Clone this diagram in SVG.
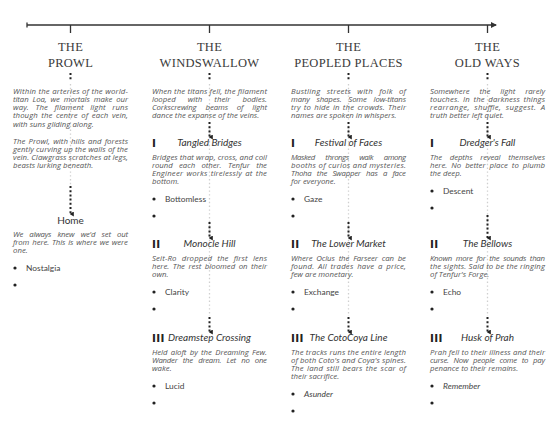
<svg xmlns="http://www.w3.org/2000/svg" width="557" height="430" viewBox="0 0 557 430">
<style>
.hdr{font-family:"Liberation Serif","DejaVu Serif",serif;font-size:12.5px;fill:#3a3a3a;text-anchor:middle;letter-spacing:0.3px}
.body{font-family:"Open Sans","Liberation Sans",sans-serif;font-style:italic;font-size:7.8px;fill:#555}
.ttl{font-family:"Lato","Liberation Sans",sans-serif;font-style:italic;font-size:10px;fill:#333;text-anchor:middle}
.ttlu{font-family:"Lato","Liberation Sans",sans-serif;font-size:10px;fill:#333;text-anchor:middle}
.num{font-family:"DejaVu Sans",sans-serif;font-weight:bold;font-size:10.5px;fill:#222;letter-spacing:0.4px}
.lbl{font-family:"Lato","Liberation Sans",sans-serif;font-size:8.4px;fill:#444}
.lbli{font-family:"Lato","Liberation Sans",sans-serif;font-style:italic;font-size:8.4px;fill:#444}
.bul{fill:#222}
.lt{stroke:#cfcfcf;stroke-width:1.3;stroke-dasharray:1.4 2.4;fill:none}
.dk{stroke:#222;stroke-width:2;stroke-dasharray:2 2.2;fill:none}
.tl{stroke:#333;stroke-width:1.3;fill:none}
</style>
<defs>
<marker id="arr" viewBox="0 0 6 6" refX="3" refY="5" markerWidth="5" markerHeight="5" orient="auto-start-reverse" markerUnits="userSpaceOnUse">
<path d="M0,1 L6,1 L3,6 Z" fill="#222"/>
</marker>
<marker id="tarr" viewBox="0 0 6 6" refX="5" refY="3" markerWidth="6" markerHeight="6" markerUnits="userSpaceOnUse" orient="auto">
<path d="M0,0 L6,3 L0,6 Z" fill="#333"/>
</marker>
</defs>

<g id="connectors">
  <line class="tl" x1="27" y1="25" x2="496" y2="25" marker-end="url(#tarr)"/>
  <line class="tl" x1="27" y1="22.5" x2="27" y2="27.5"/>
  <line class="tl" x1="70.5" y1="25" x2="70.5" y2="33" stroke-width="1.6"/>
  <line class="tl" x1="209.5" y1="25" x2="209.5" y2="33" stroke-width="1.6"/>
  <line class="tl" x1="348.5" y1="25" x2="348.5" y2="33" stroke-width="1.6"/>
  <line class="tl" x1="487.5" y1="25" x2="487.5" y2="33" stroke-width="1.6"/>
  <line class="dk" x1="70.5" y1="73" x2="70.5" y2="81"/>
  <line class="dk" x1="209.5" y1="73" x2="209.5" y2="81"/>
  <line class="dk" x1="348.5" y1="73" x2="348.5" y2="81"/>
  <line class="dk" x1="487.5" y1="73" x2="487.5" y2="81"/>
  <line class="lt" x1="70.5" y1="84" x2="70.5" y2="185"/>
  <line class="lt" x1="209.5" y1="84" x2="209.5" y2="316"/>
  <line class="lt" x1="348.5" y1="84" x2="348.5" y2="316"/>
  <line class="lt" x1="487.5" y1="84" x2="487.5" y2="316"/>
  <line class="dk" x1="70.5" y1="186" x2="70.5" y2="214" marker-end="url(#arr)"/>
  <line class="dk" x1="209.5" y1="122" x2="209.5" y2="137" marker-end="url(#arr)"/>
  <line class="dk" x1="209.5" y1="222" x2="209.5" y2="238" marker-end="url(#arr)"/>
  <line class="dk" x1="209.5" y1="317" x2="209.5" y2="332" marker-end="url(#arr)"/>
  <line class="dk" x1="348.5" y1="122" x2="348.5" y2="137" marker-end="url(#arr)"/>
  <line class="dk" x1="348.5" y1="222" x2="348.5" y2="238" marker-end="url(#arr)"/>
  <line class="dk" x1="348.5" y1="317" x2="348.5" y2="332" marker-end="url(#arr)"/>
  <line class="dk" x1="487.5" y1="122" x2="487.5" y2="137" marker-end="url(#arr)"/>
  <line class="dk" x1="487.5" y1="215" x2="487.5" y2="238" marker-end="url(#arr)"/>
  <line class="dk" x1="487.5" y1="317" x2="487.5" y2="332" marker-end="url(#arr)"/>
</g>

<g id="hdr-prowl">
  <text class="hdr" x="70.5" y="51">THE</text>
  <text class="hdr" x="70.5" y="67">PROWL</text>
</g>
<g id="prowl-intro">
  <text class="body" x="13" y="93.5" textLength="115" lengthAdjust="spacing">Within the arteries of the world-</text>
  <text class="body" x="13" y="101.8" textLength="115" lengthAdjust="spacing" word-spacing="2">titan Loa, we mortals make our</text>
  <text class="body" x="13" y="110.1" textLength="115" lengthAdjust="spacing" word-spacing="4.5">way. The filament light runs</text>
  <text class="body" x="13" y="118.4" textLength="115" lengthAdjust="spacing" word-spacing="1.5">though the centre of each vein,</text>
  <text class="body" x="13" y="126.7">with suns gliding along.</text>
  <text class="body" x="13" y="143.5" textLength="115" lengthAdjust="spacing" word-spacing="1">The Prowl, with hills and forests</text>
  <text class="body" x="13" y="151.8" textLength="115" lengthAdjust="spacing">gently curving up the walls of the</text>
  <text class="body" x="13" y="160.1" textLength="115" lengthAdjust="spacing">vein. Clawgrass scratches at legs,</text>
  <text class="body" x="13" y="168.4">beasts lurking beneath.</text>
</g>
<g id="home">
  <text class="ttlu" x="70.5" y="223.5">Home</text>
  <text class="body" x="13" y="236.5" textLength="115" lengthAdjust="spacing" word-spacing="4.5">We always knew we'd set out</text>
  <text class="body" x="13" y="244.8" textLength="115" lengthAdjust="spacing" word-spacing="1">from here. This is where we were</text>
  <text class="body" x="13" y="253.1">one.</text>
  <circle class="bul" cx="15" cy="268" r="1.6"/>
  <text class="lbl" x="26" y="270.8">Nostalgia</text>
  <circle class="bul" cx="15" cy="285" r="1.6"/>
</g>

<g id="hdr-windswallow">
  <text class="hdr" x="209.5" y="51">THE</text>
  <text class="hdr" x="209.5" y="67">WINDSWALLOW</text>
</g>
<g id="windswallow-intro">
  <text class="body" x="152" y="93.5" textLength="115" lengthAdjust="spacing">When the titans fell, the filament</text>
  <text class="body" x="152" y="101.8" textLength="115" lengthAdjust="spacing" word-spacing="10">looped with their bodies.</text>
  <text class="body" x="152" y="110.1" textLength="115" lengthAdjust="spacing" word-spacing="7">Corkscrewing beams of light</text>
  <text class="body" x="152" y="118.4">dance the expanse of the veins.</text>
</g>
<g id="tangled-bridges">
  <text class="num" x="152" y="146.5">I</text>
  <text class="ttl" x="209.5" y="145.5">Tangled Bridges</text>
  <text class="body" x="152" y="159.5" textLength="115" lengthAdjust="spacing">Bridges that wrap, cross, and coil</text>
  <text class="body" x="152" y="167.8" textLength="115" lengthAdjust="spacing" word-spacing="4.5">round each other. Tenfur the</text>
  <text class="body" x="152" y="176.1" textLength="115" lengthAdjust="spacing" word-spacing="1">Engineer works tirelessly at the</text>
  <text class="body" x="152" y="184.4">bottom.</text>
  <circle class="bul" cx="154" cy="199" r="1.6"/>
  <text class="lbl" x="165" y="201.8">Bottomless</text>
  <circle class="bul" cx="154" cy="216" r="1.6"/>
</g>
<g id="monocle-hill">
  <text class="num" x="152" y="247.5">II</text>
  <text class="ttl" x="209.5" y="246.5">Monocle Hill</text>
  <text class="body" x="152" y="260.5" textLength="115" lengthAdjust="spacing" word-spacing="3">Seit-Ro dropped the first lens</text>
  <text class="body" x="152" y="268.8" textLength="115" lengthAdjust="spacing" word-spacing="1.5">here. The rest bloomed on their</text>
  <text class="body" x="152" y="277.1">own.</text>
  <circle class="bul" cx="154" cy="292" r="1.6"/>
  <text class="lbl" x="165" y="294.8">Clarity</text>
  <circle class="bul" cx="154" cy="309" r="1.6"/>
</g>
<g id="dreamstep-crossing">
  <text class="num" x="152" y="341.5">III</text>
  <text class="ttl" x="209.5" y="340.5">Dreamstep Crossing</text>
  <text class="body" x="152" y="354.5" textLength="115" lengthAdjust="spacing" word-spacing="1.5">Held aloft by the Dreaming Few.</text>
  <text class="body" x="152" y="362.8" textLength="115" lengthAdjust="spacing" word-spacing="3.5">Wander the dream. Let no one</text>
  <text class="body" x="152" y="371.1">wake.</text>
  <circle class="bul" cx="154" cy="386" r="1.6"/>
  <text class="lbl" x="165" y="388.8">Lucid</text>
  <circle class="bul" cx="154" cy="403" r="1.6"/>
</g>

<g id="hdr-peopled">
  <text class="hdr" x="348.5" y="51">THE</text>
  <text class="hdr" x="348.5" y="67">PEOPLED PLACES</text>
</g>
<g id="peopled-intro">
  <text class="body" x="291" y="93.5" textLength="115" lengthAdjust="spacing" word-spacing="4">Bustling streets with folk of</text>
  <text class="body" x="291" y="101.8" textLength="115" lengthAdjust="spacing" word-spacing="5">many shapes. Some low-titans</text>
  <text class="body" x="291" y="110.1" textLength="115" lengthAdjust="spacing" word-spacing="1">try to hide in the crowds. Their</text>
  <text class="body" x="291" y="118.4">names are spoken in whispers.</text>
</g>
<g id="festival-of-faces">
  <text class="num" x="291" y="146.5">I</text>
  <text class="ttl" x="348.5" y="145.5">Festival of Faces</text>
  <text class="body" x="291" y="159.5" textLength="115" lengthAdjust="spacing" word-spacing="9">Masked throngs walk among</text>
  <text class="body" x="291" y="167.8" textLength="115" lengthAdjust="spacing">booths of curios and mysteries.</text>
  <text class="body" x="291" y="176.1" textLength="115" lengthAdjust="spacing" word-spacing="3.5">Thoha the Swapper has a face</text>
  <text class="body" x="291" y="184.4">for everyone.</text>
  <circle class="bul" cx="293" cy="199" r="1.6"/>
  <text class="lbl" x="304" y="201.8">Gaze</text>
  <circle class="bul" cx="293" cy="216" r="1.6"/>
</g>
<g id="lower-market">
  <text class="num" x="291" y="247.5">II</text>
  <text class="ttl" x="348.5" y="246.5">The Lower Market</text>
  <text class="body" x="291" y="260.5" textLength="115" lengthAdjust="spacing" word-spacing="2">Where Oclus the Farseer can be</text>
  <text class="body" x="291" y="268.8" textLength="115" lengthAdjust="spacing" word-spacing="1.5">found. All trades have a price,</text>
  <text class="body" x="291" y="277.1">few are monetary.</text>
  <circle class="bul" cx="293" cy="292" r="1.6"/>
  <text class="lbl" x="304" y="294.8">Exchange</text>
  <circle class="bul" cx="293" cy="309" r="1.6"/>
</g>
<g id="cotocoya-line">
  <text class="num" x="291" y="341.5">III</text>
  <text class="ttl" x="348.5" y="340.5">The CotoCoya Line</text>
  <text class="body" x="291" y="354.5" textLength="115" lengthAdjust="spacing">The tracks runs the entire length</text>
  <text class="body" x="291" y="362.8" textLength="115" lengthAdjust="spacing">of both Coto's and Coya's spines.</text>
  <text class="body" x="291" y="371.1" textLength="115" lengthAdjust="spacing" word-spacing="1">The land still bears the scar of</text>
  <text class="body" x="291" y="379.4">their sacrifice.</text>
  <circle class="bul" cx="293" cy="394" r="1.6"/>
  <text class="lbli" x="304" y="396.8">Asunder</text>
  <circle class="bul" cx="293" cy="411" r="1.6"/>
</g>

<g id="hdr-oldways">
  <text class="hdr" x="487.5" y="51">THE</text>
  <text class="hdr" x="487.5" y="67">OLD WAYS</text>
</g>
<g id="oldways-intro">
  <text class="body" x="430" y="93.5" textLength="115" lengthAdjust="spacing" word-spacing="8">Somewhere the light rarely</text>
  <text class="body" x="430" y="101.8" textLength="115" lengthAdjust="spacing" word-spacing="1.5">touches. In the darkness things</text>
  <text class="body" x="430" y="110.1" textLength="115" lengthAdjust="spacing" word-spacing="2">rearrange, shuffle, suggest. A</text>
  <text class="body" x="430" y="118.4">truth better left quiet.</text>
</g>
<g id="dredgers-fall">
  <text class="num" x="430" y="146.5">I</text>
  <text class="ttl" x="487.5" y="145.5">Dredger's Fall</text>
  <text class="body" x="430" y="159.5" textLength="115" lengthAdjust="spacing" word-spacing="6">The depths reveal themselves</text>
  <text class="body" x="430" y="167.8" textLength="115" lengthAdjust="spacing" word-spacing="2">here. No better place to plumb</text>
  <text class="body" x="430" y="176.1">the deep.</text>
  <circle class="bul" cx="432" cy="191" r="1.6"/>
  <text class="lbl" x="443" y="193.8">Descent</text>
  <circle class="bul" cx="432" cy="208" r="1.6"/>
</g>
<g id="the-bellows">
  <text class="num" x="430" y="247.5">II</text>
  <text class="ttl" x="487.5" y="246.5">The Bellows</text>
  <text class="body" x="430" y="260.5" textLength="115" lengthAdjust="spacing" word-spacing="2">Known more for the sounds than</text>
  <text class="body" x="430" y="268.8" textLength="115" lengthAdjust="spacing">the sights. Said to be the ringing</text>
  <text class="body" x="430" y="277.1">of Tenfur's Forge.</text>
  <circle class="bul" cx="432" cy="292" r="1.6"/>
  <text class="lbl" x="443" y="294.8">Echo</text>
  <circle class="bul" cx="432" cy="309" r="1.6"/>
</g>
<g id="husk-of-prah">
  <text class="num" x="430" y="341.5">III</text>
  <text class="ttl" x="487.5" y="340.5">Husk of Prah</text>
  <text class="body" x="430" y="354.5" textLength="115" lengthAdjust="spacing">Prah fell to their illness and their</text>
  <text class="body" x="430" y="362.8" textLength="115" lengthAdjust="spacing" word-spacing="3">curse. Now people come to pay</text>
  <text class="body" x="430" y="371.1">penance to their remains.</text>
  <circle class="bul" cx="432" cy="386" r="1.6"/>
  <text class="lbli" x="443" y="388.8">Remember</text>
  <circle class="bul" cx="432" cy="403" r="1.6"/>
</g>
</svg>
